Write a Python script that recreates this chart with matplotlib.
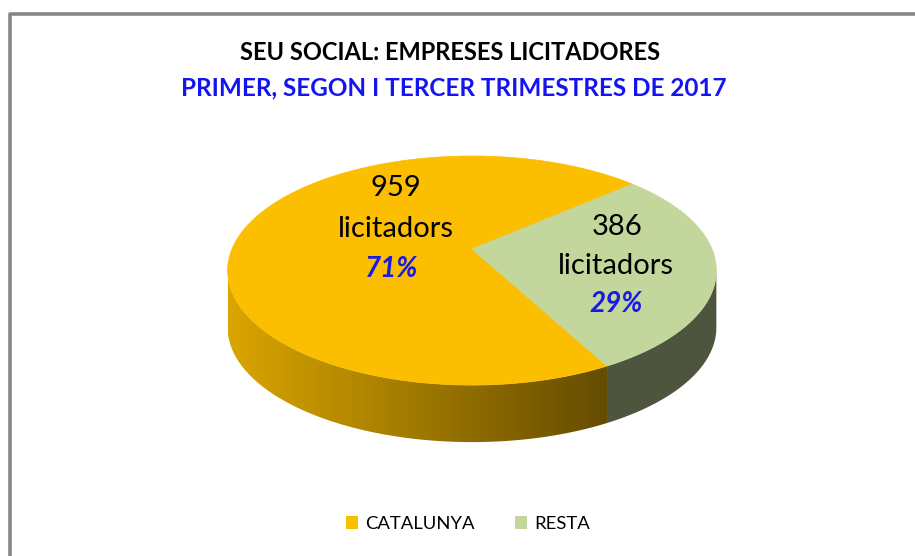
import numpy as np
import matplotlib
matplotlib.use('Agg')
import matplotlib.pyplot as plt
from matplotlib.patches import Polygon, Patch
from matplotlib.lines import Line2D

# DATA
categories = ['CATALUNYA', 'RESTA']
licitadors = [959, 386]
top_colors = ['#FBBE00', '#C3D69B']
title = 'SEU SOCIAL: EMPRESES LICITADORES'
subtitle = 'PRIMER, SEGON I TERCER TRIMESTRES DE 2017'

plt.rcParams['font.family'] = ['Lato', 'DejaVu Sans']

W, H = 915, 556
fig = plt.figure(figsize=(W / 100, H / 100), dpi=100)
ax = fig.add_axes([0, 0, 1, 1])
ax.set_xlim(0, W)
ax.set_ylim(H, 0)
ax.axis('off')

# frame (left and top only are visible)
ax.add_line(Line2D([9.5, 9.5, W], [H, 13.5, 13.5], color='#868686', lw=2.6, solid_capstyle='butt'))

# pie geometry in pixels, with a bit of perspective
cx, cy = 472, 249
a0, b0, k = 240, 110.5, 0.188
depth = 57
start = 41.3  # degrees, counter-clockwise


def proj(t_deg):
    t = np.radians(t_deg)
    u, v = np.cos(t), np.sin(t)
    w = 1 + k * v
    return cx + a0 * u / w, cy - b0 * v / w


vals = np.array(licitadors, dtype=float)
frac = vals / vals.sum()
edges = start + np.concatenate([[0], np.cumsum(frac) * 360])

# visible outer wall: between the two silhouette points, through the front
t_sil = np.degrees(np.arcsin(-k))
vis_lo, vis_hi = 180 - t_sil, 360 + t_sil


def shade(x):
    return np.interp(x, [229, 605, 716], [0.87, 0.40, 0.40])


# side walls first
for i, c in enumerate(top_colors):
    t1, t2 = edges[i], edges[i + 1]
    for off in (-360, 0, 360):
        lo, hi = max(t1, vis_lo + off), min(t2, vis_hi + off)
        if hi <= lo:
            continue
        ts = np.linspace(lo, hi, 200)
        xs, ys = proj(ts)
        pts = np.vstack([np.column_stack([xs, ys]),
                         np.column_stack([xs[::-1], ys[::-1] + depth])])
        poly = Polygon(pts, closed=True, facecolor='none', edgecolor='none')
        ax.add_patch(poly)
        gx = np.linspace(xs.min(), xs.max(), 300)
        rgb = np.array(matplotlib.colors.to_rgb(c))
        img = (shade(gx)[:, None] * rgb[None, :])[None, :, :]
        im = ax.imshow(img, extent=(gx[0], gx[-1], ys.max() + depth + 2, ys.min() - 2),
                       aspect='auto', interpolation='bilinear', zorder=1)
        im.set_clip_path(poly)

# top faces
for i, c in enumerate(top_colors):
    ts = np.linspace(edges[i], edges[i + 1], 300)
    xs, ys = proj(ts)
    pts = np.vstack([[cx, cy], np.column_stack([xs, ys])])
    ax.add_patch(Polygon(pts, closed=True, facecolor=c, edgecolor=c, lw=0.5, zorder=2))

# data labels
label_pos = [(396, 188, 41), (617, 227, 39)]
for i, (lx, ly, step) in enumerate(label_pos):
    ax.text(lx, ly, str(licitadors[i]), ha='center', va='center', fontsize=21, color='black', zorder=3)
    ax.text(lx - (0 if i == 0 else 1), ly + step, 'licitadors', ha='center', va='center',
            fontsize=21, color='black', zorder=3)
    ax.text(lx - (4 if i == 0 else 1), ly + 2 * step - 1, f'{frac[i] * 100:.0f}%', ha='center', va='center',
            fontsize=20, color='#1A1AE6', fontweight='bold', fontstyle='italic', zorder=3)

# titles
ax.text(450, 53, title, ha='center', va='center', fontsize=17, fontweight='bold', color='black')
ax.text(454, 88, subtitle, ha='center', va='center', fontsize=17.5, fontweight='bold', color='#1414F0')

# legend
handles = [Patch(facecolor=c, edgecolor='none') for c in top_colors]
ax.legend(handles, categories, loc='center', bbox_to_anchor=(468 / W, 1 - 524 / H),
          ncol=2, frameon=False, fontsize=13.3, handlelength=0.65, handleheight=0.65,
          handletextpad=0.4, columnspacing=2.2)

fig.savefig('out.png', dpi=100)
